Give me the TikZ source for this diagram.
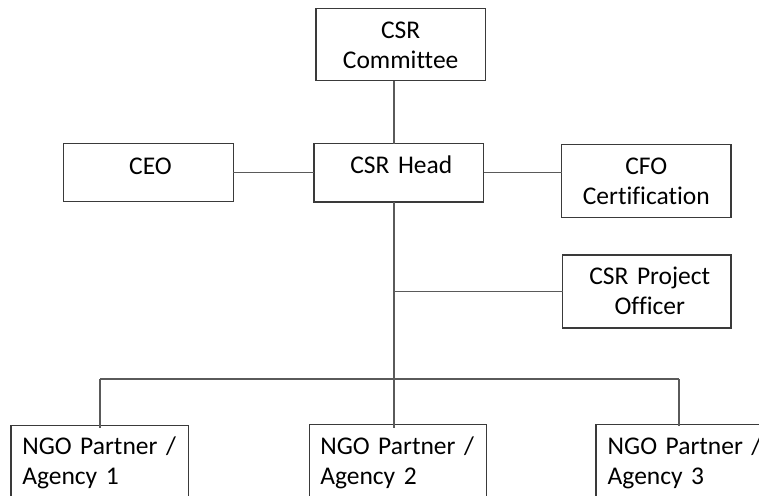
\documentclass[tikz,border=0pt]{standalone}
\usepackage{fontspec}
\setmainfont{Carlito}[Ligatures=NoCommon]
\begin{document}
\begin{tikzpicture}[x=1pt,y=-1pt,
  box/.style={draw=boxgray, line width=1.3pt, inner sep=0pt, outer sep=0pt, rectangle},
  lbl/.style={inner sep=0pt, outer sep=0pt, font=\fontsize{25.5}{30}\selectfont, text=black},
  conn/.style={draw=linegray, line width=1.1pt}]
\definecolor{boxgray}{HTML}{3A3A3A}
\definecolor{linegray}{HTML}{5A5A5A}
\useasboundingbox (0,0) rectangle (759,495);
\clip (0,0) rectangle (759,495);
% boxes
\node[box, minimum width=169.3pt, minimum height=72.4pt] (com)  at (400.65,44.5) {};
\node[box, minimum width=169.6pt, minimum height=58.4pt] (ceo)  at (148.5,172.5) {};
\node[box, minimum width=169.7pt, minimum height=58.3pt] (head) at (398.85,172.85) {};
\node[box, minimum width=169.3pt, minimum height=72.6pt] (cfo)  at (646.35,181) {};
\node[box, minimum width=168.3pt, minimum height=73pt]   (cpo)  at (646.85,291.5) {};
\node[box, anchor=north west, minimum width=177.7pt, minimum height=110pt] (ngo1) at (11,425.3) {};
\node[box, anchor=north west, minimum width=177.4pt, minimum height=110pt] (ngo2) at (309.3,424.3) {};
\node[box, anchor=north west, minimum width=177pt, minimum height=110pt]   (ngo3) at (596,424.3) {};
% texts
\node[lbl, anchor=base, text width=169pt, align=center] (comt)  at (400.65,38.3) {CSR\\Committee};
\node[lbl, anchor=base, text width=169pt, align=center] (ceot)  at (150.5,174) {CEO};
\node[lbl, anchor=base, text width=169pt, align=center] (headt) at (401.3,173.3) {CSR Head};
\node[lbl, anchor=base, text width=169pt, align=center] (cfot)  at (646.3,174) {CFO\\Certification};
\node[lbl, anchor=base, text width=168pt, align=center] (cpot)  at (649.8,284) {CSR Project\\Officer};
\node[lbl, anchor=base west, text width=170pt, align=left] (ngo1t) at (22.3,454) {NGO Partner /\\Agency 1};
\node[lbl, anchor=base west, text width=170pt, align=left] (ngo2t) at (320.3,454) {NGO Partner /\\Agency 2};
\node[lbl, anchor=base west, text width=170pt, align=left] (ngo3t) at (607.7,454) {NGO Partner /\\Agency 3};
% connector helpers
\coordinate (trunk) at (394,0);
\coordinate (busl) at (100,379);
\coordinate (busr) at (679,379);
% connectors
\draw[conn] (com.south -| trunk) -- (head.north -| trunk);
\draw[conn] (ceo.east) -- (ceo.east -| head.west);
\draw[conn] (head.east) -- (head.east -| cfo.west);
\draw[conn] (head.south -| trunk) -- ([yshift=-3.5pt]ngo2.north -| trunk);
\draw[conn] (cpo.west -| trunk) -- (cpo.west);
\draw[conn] (busl) -- (busr);
\draw[conn] (busl) -- ([yshift=-2.5pt]ngo1.north -| busl);
\draw[conn] (busr) -- ([yshift=-1.5pt]ngo3.north -| busr);
\end{tikzpicture}
\end{document}
